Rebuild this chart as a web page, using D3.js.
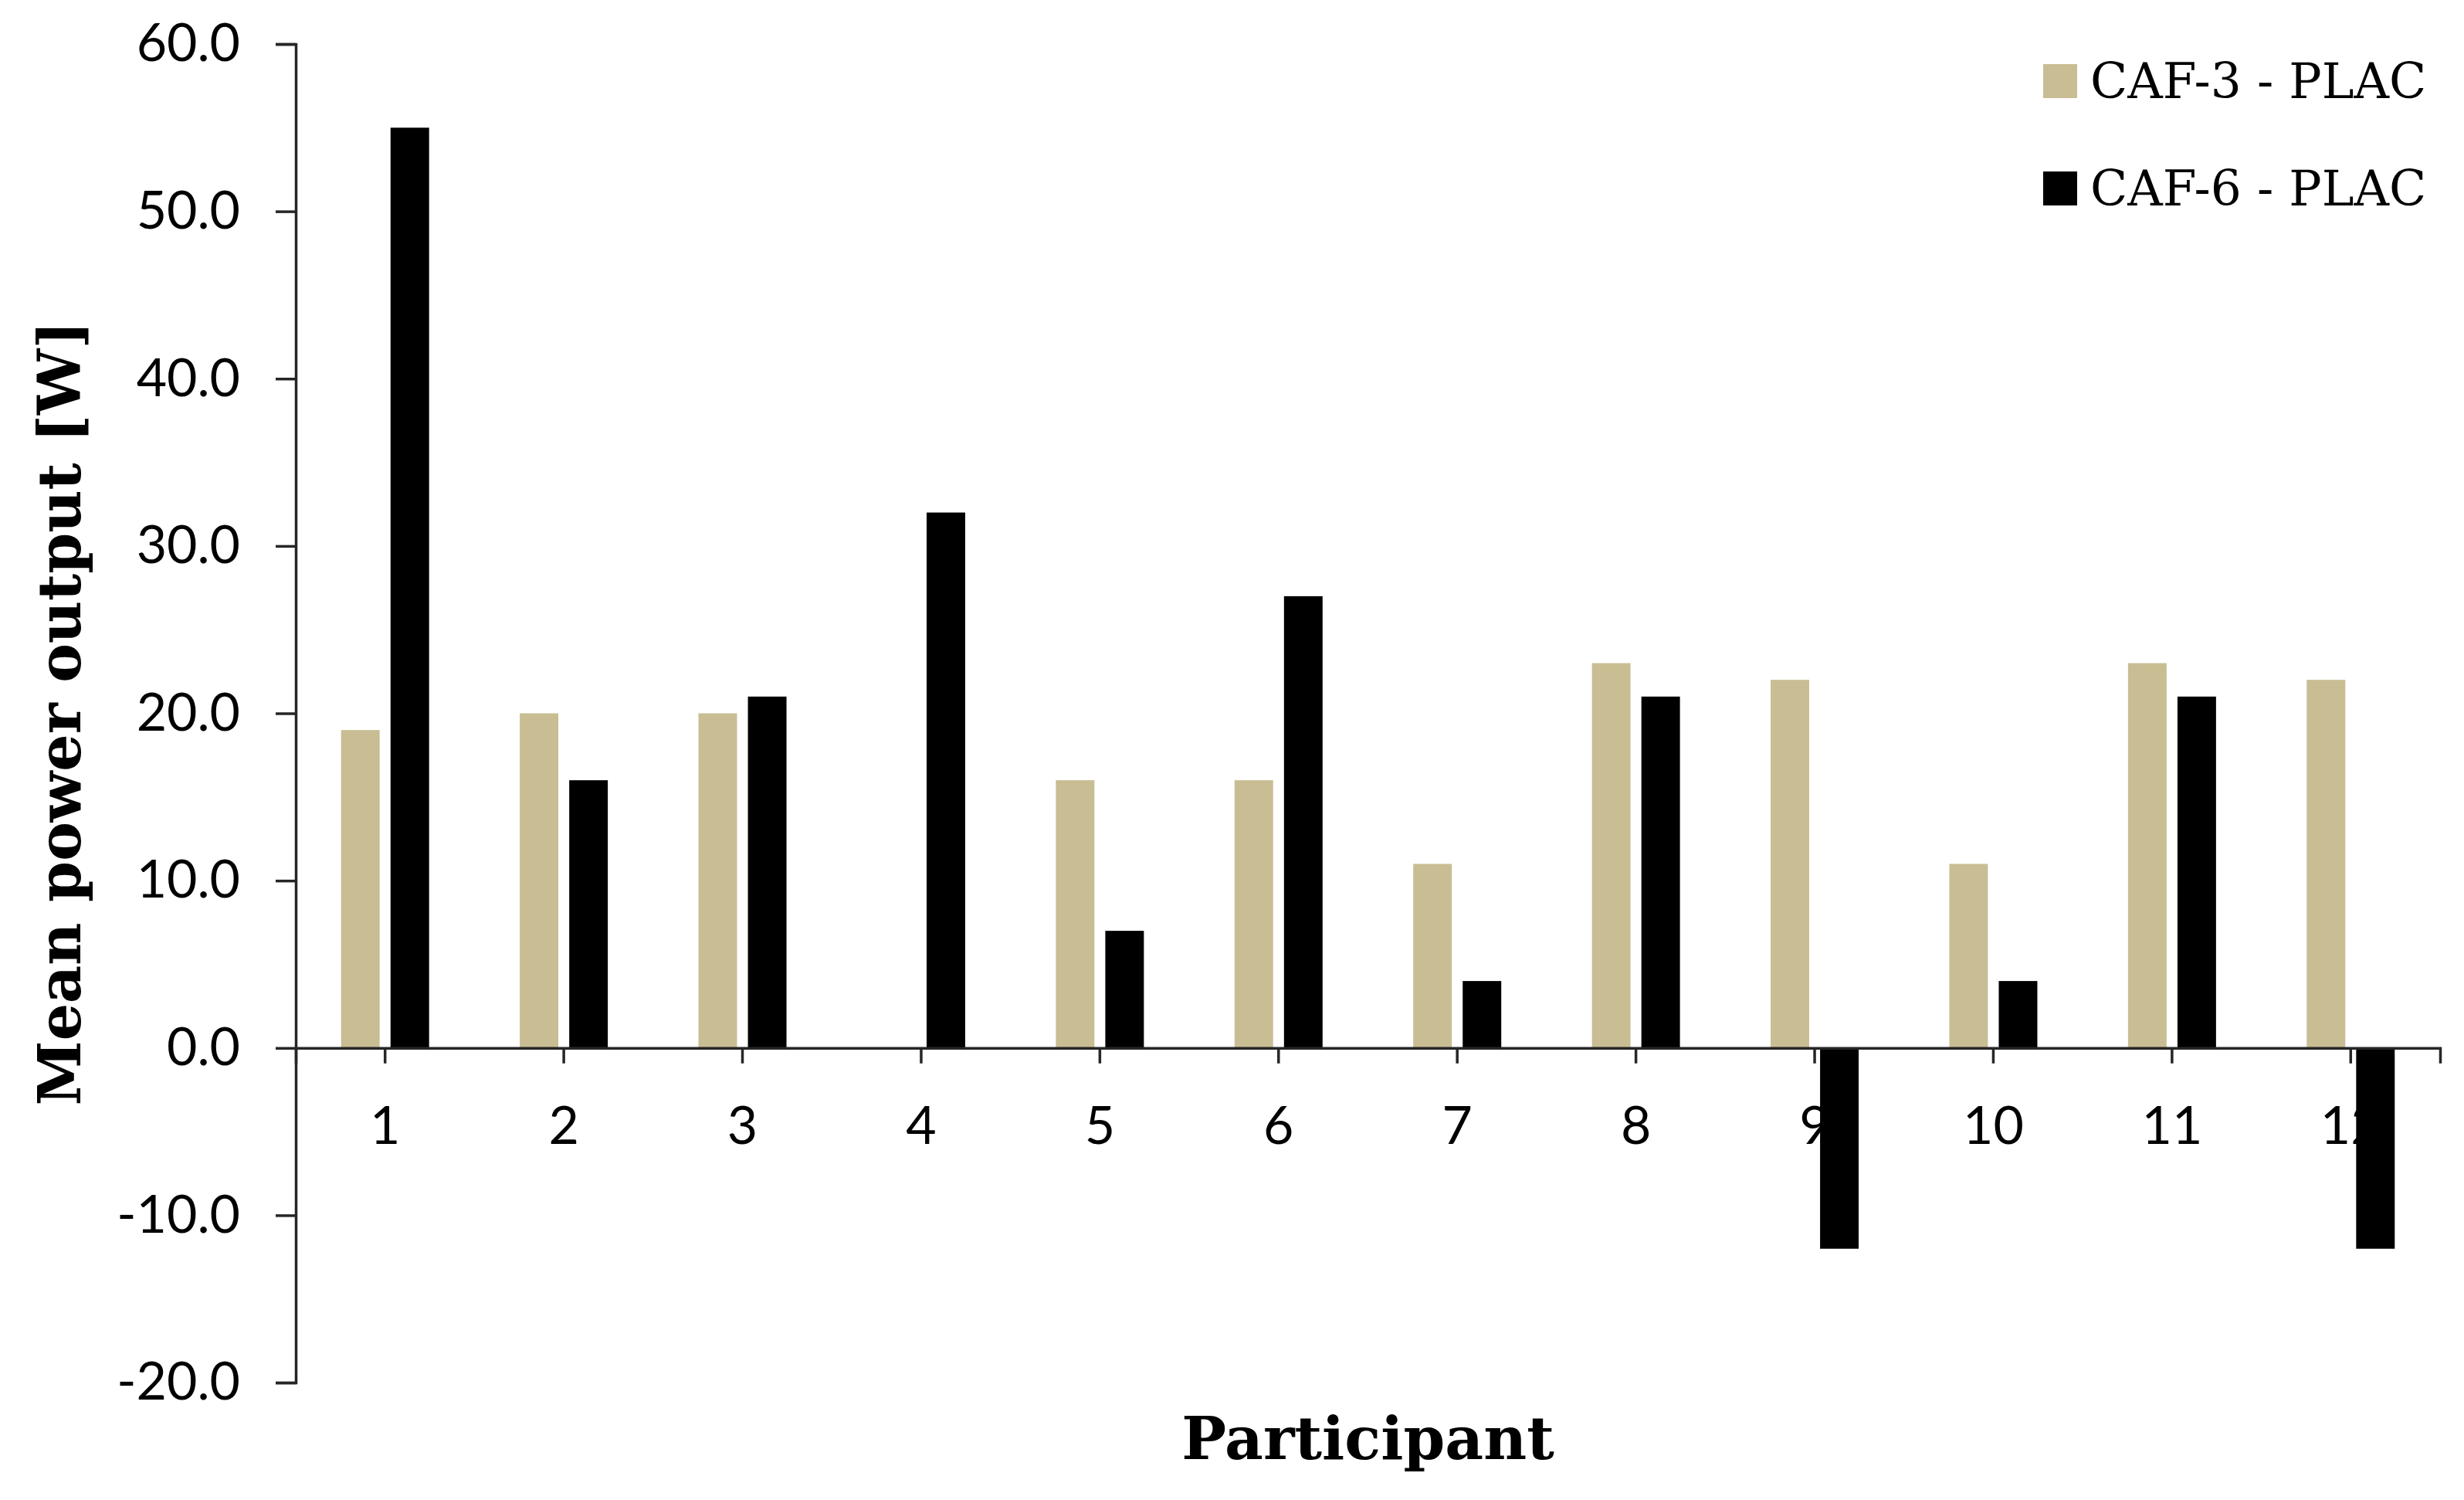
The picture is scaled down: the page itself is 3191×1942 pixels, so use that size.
<!DOCTYPE html>
<html lang="en">
<head>
  <meta charset="UTF-8">
  <title>Mean power output per participant</title>
  <script src="https://d3js.org/d3.v7.min.js"></script>
  <style>
    html, body { margin: 0; padding: 0; background: #fff; }
    .tick-label { font-family: Lato, "Open Sans", sans-serif; font-size: 68px; fill: #000; }
    .title { font-family: "DejaVu Serif", serif; font-weight: bold; fill: #000; }
    .legend text { font-family: "DejaVu Serif", serif; font-size: 63px; fill: #000; }
  </style>
</head>
<body>
<svg id="chart" width="3191" height="1942"></svg>

<script>
  // Participants on the x axis
  const participants = ["1", "2", "3", "4", "5", "6", "7", "8", "9", "10", "11", "12"];

  // Differences vs placebo (W)
  const caf3 = [19, 20, 20, 0, 16, 16, 11, 23, 22, 11, 23, 22];
  const caf6 = [55, 16, 21, 32, 7, 27, 4, 21, -12, 4, 21, -12];

  const seriesNames = ["CAF-3 - PLAC", "CAF-6 - PLAC"];
  const seriesColors = ["#c9bd93", "#000000"];
  const yTicks = [-20, -10, 0, 10, 20, 30, 40, 50, 60];

  const svg = d3.select("#chart");

  // plot area
  const plotLeft = 383, plotRight = 3160, plotTop = 57, plotBottom = 1790;

  const y = d3.scaleLinear().domain([-20, 60]).range([plotBottom, plotTop]);
  const x0 = d3.scaleBand().domain(participants).range([plotLeft, plotRight]);
  const bw = x0.bandwidth();
  const x1 = d3.scaleBand().domain(seriesNames)
          .range([bw / 2 - 57, bw / 2 + 57])
          .paddingInner(0.22);
  const color = d3.scaleOrdinal().domain(seriesNames).range(seriesColors);

  // Excel style labels: plain hyphen for negatives, one decimal
  const fmt = d => d.toFixed(1);

  // rows for the grouped bars
  const rows = participants.map((p, i) => ({
    participant: p,
    values: [
      {series: seriesNames[0], value: caf3[i]},
      {series: seriesNames[1], value: caf6[i]}
    ]
  }));

  // x tick labels go underneath the bars (bars 9 and 12 cover them in the original)
  const xLabels = svg.append("g")
          .attr("transform", `translate(0,${y(0)})`)
          .call(d3.axisBottom(x0).tickSize(20).tickPadding(56));
  xLabels.select(".domain").remove();
  xLabels.selectAll(".tick line").remove();
  xLabels.attr("font-size", null).attr("font-family", null);
  xLabels.selectAll("text").attr("class", "tick-label");

  // bars
  svg.append("g")
          .selectAll("g")
          .data(rows)
          .join("g")
          .attr("transform", d => `translate(${x0(d.participant)},0)`)
          .selectAll("rect")
          .data(d => d.values)
          .join("rect")
          .attr("x", d => x1(d.series))
          .attr("width", x1.bandwidth())
          .attr("y", d => y(Math.max(0, d.value)))
          .attr("height", d => Math.abs(y(d.value) - y(0)))
          .attr("fill", d => color(d.series));

  // y axis
  const yAxis = svg.append("g")
          .attr("transform", `translate(${plotLeft},0)`)
          .call(d3.axisLeft(y).tickValues(yTicks).tickSize(26).tickPadding(46)
                  .tickFormat(fmt));
  yAxis.attr("font-size", null).attr("font-family", null);
  yAxis.selectAll("text").attr("class", "tick-label");

  // x axis lines on top of the bars
  svg.append("g")
          .attr("transform", `translate(0,${y(0)})`)
          .call(d3.axisBottom(x0).tickSize(20).tickFormat(""));

  svg.selectAll(".domain, .tick line")
          .attr("stroke", "#262626")
          .attr("stroke-width", 3.5);

  // axis titles
  svg.append("text")
          .attr("class", "title")
          .attr("font-size", 76)
          .attr("text-anchor", "middle")
          .attr("transform", `translate(104,${(plotTop + plotBottom) / 2}) rotate(-90)`)
          .text("Mean power output [W]");

  svg.append("text")
          .attr("class", "title")
          .attr("font-size", 77)
          .attr("text-anchor", "middle")
          .attr("x", (plotLeft + plotRight) / 2)
          .attr("y", 1889)
          .text("Participant");

  // legend
  const legend = svg.append("g")
          .attr("class", "legend")
          .selectAll("g")
          .data(seriesNames)
          .join("g")
          .attr("transform", (d, i) => `translate(2646,${105 + i * 139})`);

  legend.append("rect")
          .attr("x", 0)
          .attr("y", -22)
          .attr("width", 44)
          .attr("height", 44)
          .attr("fill", d => color(d));

  legend.append("text")
          .attr("x", 61)
          .attr("y", 0)
          .attr("dy", "0.35em")
          .text(d => d);
</script>
</body>
</html>
